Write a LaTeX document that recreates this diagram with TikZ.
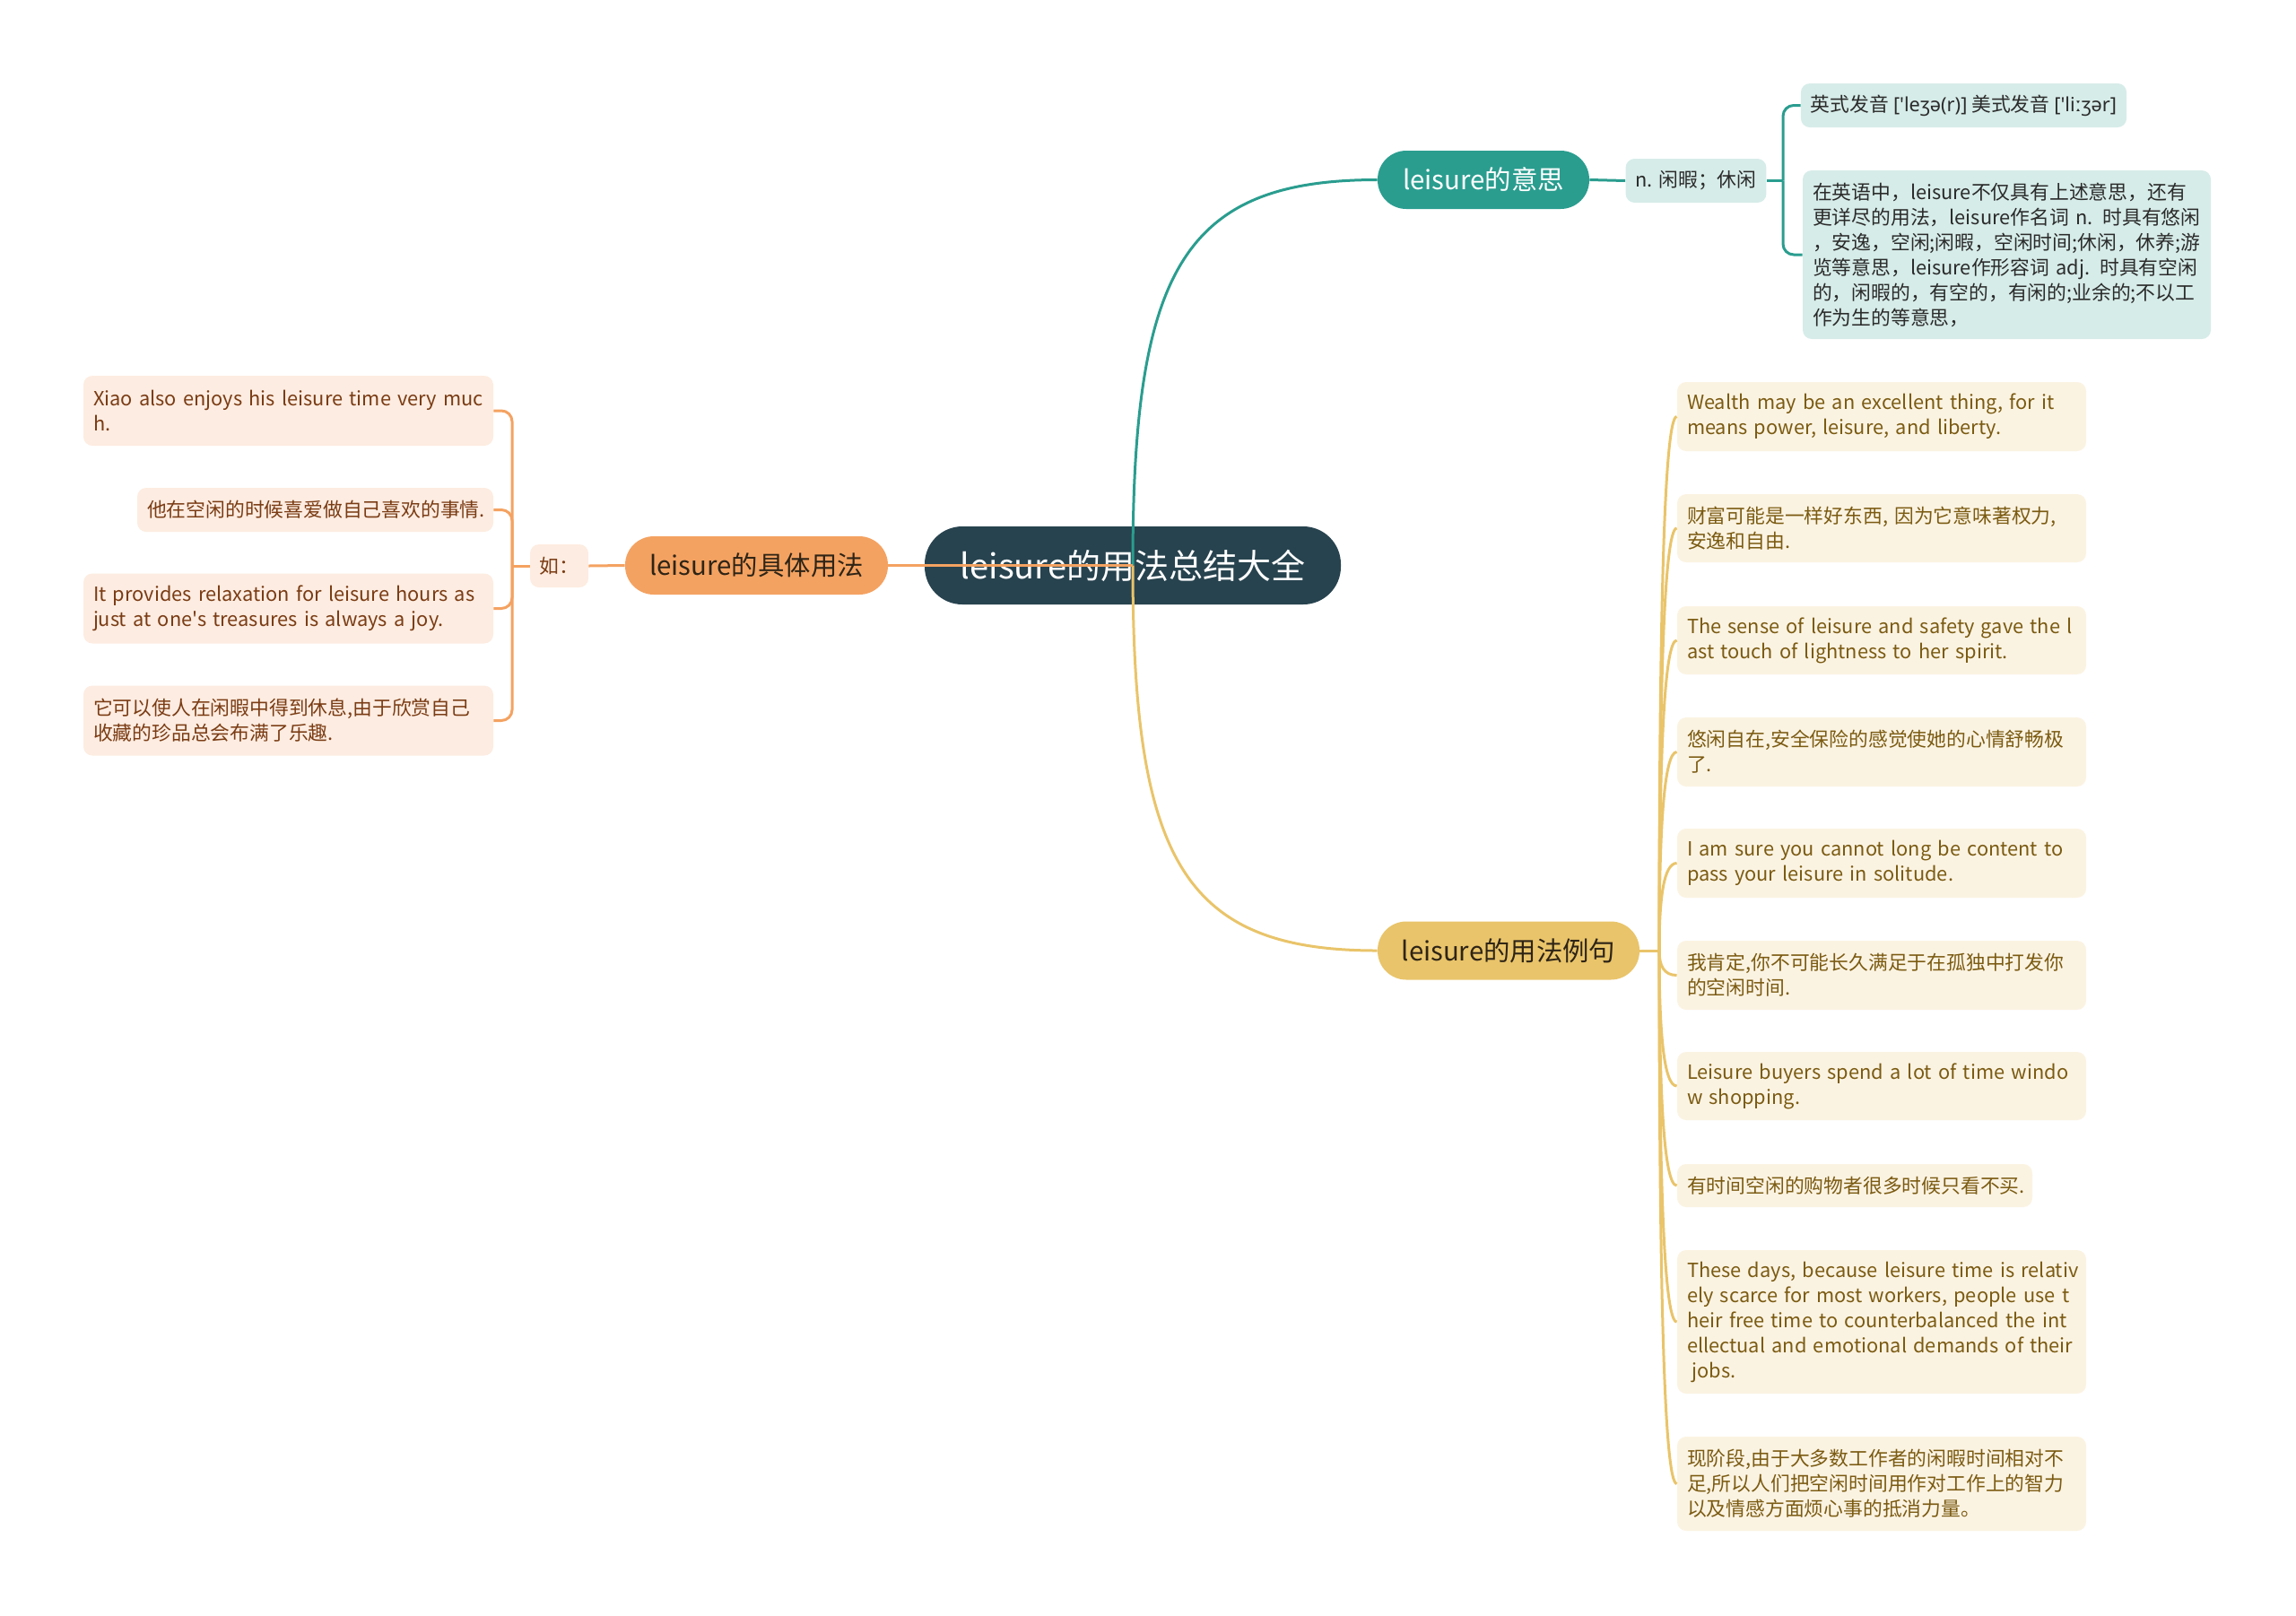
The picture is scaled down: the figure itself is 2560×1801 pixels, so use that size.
\documentclass[tikz,border=0pt]{standalone}
\usepackage{fontspec}
\setmainfont{Noto Sans CJK SC}[Ligatures=TeXOff]
\newfontfamily\ipafont{Noto Sans}[Ligatures=TeXOff]
\definecolor{rootc}{HTML}{27434F}
\definecolor{tealc}{HTML}{2A9D8F}
\definecolor{teallt}{HTML}{D6ECE8}
\definecolor{tealtx}{HTML}{2B2B2B}
\definecolor{orangec}{HTML}{F4A261}
\definecolor{orangelt}{HTML}{FDECE1}
\definecolor{orangetx}{HTML}{7A3C14}
\definecolor{goldc}{HTML}{E9C46A}
\definecolor{goldlt}{HTML}{FBF3E2}
\definecolor{goldtx}{HTML}{7B5B12}
\definecolor{darktx}{HTML}{2E2416}
\hyphenpenalty=10000
\exhyphenpenalty=10000
\begin{document}
\begin{tikzpicture}[x=0.5pt,y=-0.5pt,
  rootbox/.style={fill=rootc, rounded corners=21pt, minimum width=232pt, minimum height=43.5pt, inner sep=0pt, text=white, font=\fontsize{19}{22}\selectfont},
  branchbox/.style={rounded corners=16pt, minimum height=32.5pt, inner sep=0pt, font=\fontsize{14.7}{17}\selectfont},
  childbox/.style={rounded corners=5pt, inner xsep=5.5pt, inner ysep=0pt, align=left, font=\fontsize{10.9}{14}\selectfont},
  gbox/.style={childbox, fill=goldlt, text=goldtx},
  obox/.style={childbox, fill=orangelt, text=orangetx},
  tbox/.style={childbox, fill=teallt, text=tealtx},
  tline/.style={draw=tealc, line width=1.5pt},
  oline/.style={draw=orangec, line width=1.5pt},
  gline/.style={draw=goldc, line width=1.5pt}]
\useasboundingbox (0,0) rectangle (2560,1801);

% root
\node[rootbox] (root) at (1263,630.5) {leisure的用法总结大全};

% branches
\node[branchbox, fill=tealc, text=white, minimum width=118pt] (mean) at (1654,200.5) {leisure的意思};
\node[branchbox, fill=orangec, text=darktx, minimum width=146.5pt] (use) at (843.5,630.5) {leisure的具体用法};
\node[branchbox, fill=goldc, text=darktx, minimum width=146pt] (ex) at (1682,1060) {leisure的用法例句};

% teal children
\node[tbox, minimum width=76pt, minimum height=24.5pt, align=center] (nn) at (1891,201.5) {n. 闲暇；休闲};
\node[tbox, minimum width=179.5pt, minimum height=24.5pt, align=center] (pron) at (2189.5,117.5) {英式发音 {\ipafont['leʒə(r)]} 美式发音 {\ipafont['liːʒər]}};
\node[tbox, text width=216.5pt, minimum height=94pt] (detail) at (2237.5,284) {在英语中，leisure不仅具有上述意思，还有\\更详尽的用法，leisure作名词 n. 时具有悠闲\\，安逸，空闲;闲暇，空闲时间;休闲，休养;游\\览等意思，leisure作形容词 adj. 时具有空闲\\的，闲暇的，有空的，有闲的;业余的;不以工\\作为生的等意思，};

% orange children
\node[obox, minimum width=32.5pt, minimum height=24pt, align=center, inner xsep=0pt] (ru) at (623.5,631) {如：};
\node[obox, text width=217.5pt, minimum height=39pt] (o1) at (321.5,458) {Xiao also enjoys his leisure time very muc\\h.};
\node[obox, text width=187.5pt, minimum height=24.5pt] (o2) at (351.5,568.5) {他在空闲的时候喜爱做自己喜欢的事情.};
\node[obox, text width=217.5pt, minimum height=39pt] (o3) at (321.5,678.5) {It provides relaxation for leisure hours as\\just at one's treasures is always a joy.};
\node[obox, text width=217.5pt, minimum height=39pt] (o4) at (321.5,803.5) {它可以使人在闲暇中得到休息,由于欣赏自己\\收藏的珍品总会布满了乐趣.};

% gold children
\node[gbox, text width=217pt, minimum height=38.5pt] (g1) at (2098,464.5) {Wealth may be an excellent thing, for it\\means power, leisure, and liberty.};
\node[gbox, text width=217pt, minimum height=38pt] (g2) at (2098,589) {财富可能是一样好东西, 因为它意味著权力,\\安逸和自由.};
\node[gbox, text width=217pt, minimum height=38pt] (g3) at (2098,714) {The sense of leisure and safety gave the l\\ast touch of lightness to her spirit.};
\node[gbox, text width=217pt, minimum height=38.5pt] (g4) at (2098,838.5) {悠闲自在,安全保险的感觉使她的心情舒畅极\\了.};
\node[gbox, text width=217pt, minimum height=38.5pt] (g5) at (2098,962.5) {I am sure you cannot long be content to\\pass your leisure in solitude.};
\node[gbox, text width=217pt, minimum height=38.5pt] (g6) at (2098,1087.5) {我肯定,你不可能长久满足于在孤独中打发你\\的空闲时间.};
\node[gbox, text width=217pt, minimum height=38pt] (g7) at (2098,1211) {Leisure buyers spend a lot of time windo\\w shopping.};
\node[gbox, text width=187pt, minimum height=24pt] (g8) at (2068,1322) {有时间空闲的购物者很多时候只看不买.};
\node[gbox, text width=217pt, minimum height=80pt] (g9) at (2098,1474) {\mbox{These days, because leisure time is relativ}\\\mbox{ely scarce for most workers, people use t}\\\mbox{heir free time to counterbalanced the int}\\\mbox{ellectual and emotional demands of their}\\\hspace{0.25em}jobs.};
\node[gbox, text width=217pt, minimum height=52.5pt] (g10) at (2098,1654.5) {现阶段,由于大多数工作者的闲暇时间相对不\\足,所以人们把空闲时间用作对工作上的智力\\以及情感方面烦心事的抵消力量。};

% main connectors (drawn over the root)
\draw[tline] (root.center) .. controls (1263,300) and (1320,200.5) .. (mean.west);
\draw[gline] (root.center) .. controls (1263,960) and (1320,1060) .. (ex.west);
\draw[oline] (root.center) -- (use.east);

% teal bracket
\coordinate (tb) at (1988,201.5);
\draw[tline] (mean.east) -- (nn.west);
\draw[tline] (nn.east) -- (tb);
\draw[tline, rounded corners=6pt] (tb) |- (pron.west);
\draw[tline, rounded corners=6pt] (tb) |- (detail.west);

% orange bracket
\coordinate (ob) at (571,631);
\draw[oline] (use.west) -- (ru.east);
\draw[oline] (ru.west) -- (ob);
\foreach \c in {o1,o2,o3,o4}
  \draw[oline, rounded corners=6pt] (ob) |- (\c.east);

% gold fan
\coordinate (gs) at (1850,1060);
\draw[gline] (ex.east) -- (gs);
\draw[gline] (gs) .. controls (1850,702.7) and (1855,464.5) .. (g1.west);
\draw[gline] (gs) .. controls (1850,777.4) and (1855,589) .. (g2.west);
\draw[gline] (gs) .. controls (1850,852.4) and (1855,714) .. (g3.west);
\draw[gline] (gs) .. controls (1850,927.1) and (1855,838.5) .. (g4.west);
\draw[gline] (gs) .. controls (1850,1001.5) and (1855,962.5) .. (g5.west);
\draw[gline] (gs) .. controls (1850,1076.5) and (1855,1087.5) .. (g6.west);
\draw[gline] (gs) .. controls (1850,1150.6) and (1855,1211) .. (g7.west);
\draw[gline] (gs) .. controls (1850,1217.2) and (1855,1322) .. (g8.west);
\draw[gline] (gs) .. controls (1850,1308.4) and (1855,1474) .. (g9.west);
\draw[gline] (gs) .. controls (1850,1416.7) and (1855,1654.5) .. (g10.west);
\end{tikzpicture}
\end{document}
